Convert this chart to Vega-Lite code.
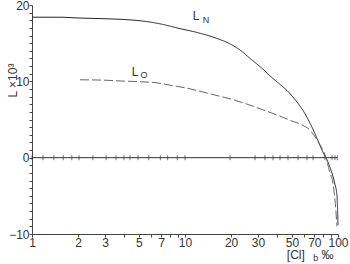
{
  "$schema": "https://vega.github.io/schema/vega-lite/v6.json",
  "width": 306,
  "height": 229,
  "autosize": {"type": "none"},
  "padding": {"left": 32, "top": 5, "right": 12, "bottom": 30},
  "background": "white",
  "config": {
    "view": {"stroke": null},
    "font": "Liberation Sans",
    "axis": {"grid": false, "domainColor": "#444", "tickColor": "#444", "labelColor": "#333", "labelFontSize": 12, "labelFont": "Liberation Sans", "tickSize": 3, "labelPadding": 0, "labelOverlap": false, "labelBound": false, "labelFlush": false}
  },
  "datasets": {
    "curves": [
      {"x": 1, "L": 18.4, "series": "N"},
      {"x": 1.5, "L": 18.4, "series": "N"},
      {"x": 2, "L": 18.3, "series": "N"},
      {"x": 3, "L": 18.2, "series": "N"},
      {"x": 4, "L": 18.1, "series": "N"},
      {"x": 5, "L": 17.95, "series": "N"},
      {"x": 7, "L": 17.5, "series": "N"},
      {"x": 9.3, "L": 16.9, "series": "N"},
      {"x": 12, "L": 16.4, "series": "N"},
      {"x": 15.2, "L": 15.8, "series": "N"},
      {"x": 19.7, "L": 14.9, "series": "N"},
      {"x": 22.9, "L": 14.1, "series": "N"},
      {"x": 27, "L": 12.9, "series": "N"},
      {"x": 32.3, "L": 11.6, "series": "N"},
      {"x": 36, "L": 10.7, "series": "N"},
      {"x": 41.8, "L": 9.6, "series": "N"},
      {"x": 46.4, "L": 8.8, "series": "N"},
      {"x": 52.4, "L": 7.6, "series": "N"},
      {"x": 59, "L": 6.2, "series": "N"},
      {"x": 67.6, "L": 4.0, "series": "N"},
      {"x": 78.6, "L": 1.0, "series": "N"},
      {"x": 88.4, "L": -1.2, "series": "N"},
      {"x": 95, "L": -3.3, "series": "N"},
      {"x": 98.5, "L": -5.0, "series": "N"},
      {"x": 100, "L": -8.8, "series": "N"},
      {"x": 2.06, "L": 10.2, "series": "O"},
      {"x": 3, "L": 10.15, "series": "O"},
      {"x": 3.76, "L": 10.05, "series": "O"},
      {"x": 5, "L": 9.95, "series": "O"},
      {"x": 6.56, "L": 9.8, "series": "O"},
      {"x": 8, "L": 9.5, "series": "O"},
      {"x": 10.3, "L": 9.1, "series": "O"},
      {"x": 15, "L": 8.3, "series": "O"},
      {"x": 19.7, "L": 7.7, "series": "O"},
      {"x": 23.9, "L": 7.2, "series": "O"},
      {"x": 30, "L": 6.5, "series": "O"},
      {"x": 39.8, "L": 5.6, "series": "O"},
      {"x": 50, "L": 4.8, "series": "O"},
      {"x": 58, "L": 4.3, "series": "O"},
      {"x": 65.6, "L": 3.6, "series": "O"},
      {"x": 72, "L": 2.5, "series": "O"},
      {"x": 78.6, "L": 1.2, "series": "O"},
      {"x": 83.5, "L": 0, "series": "O"},
      {"x": 88, "L": -1.8, "series": "O"},
      {"x": 92.7, "L": -3.4, "series": "O"},
      {"x": 96, "L": -6.0, "series": "O"},
      {"x": 98.5, "L": -9.0, "series": "O"}
    ],
    "zero": [
      {"x": 1.0, "L": 0}, {"x": 1.18, "L": 0}, {"x": 1.39, "L": 0}, {"x": 1.6, "L": 0},
      {"x": 1.82, "L": 0}, {"x": 2.03, "L": 0}, {"x": 2.5, "L": 0}, {"x": 3.05, "L": 0},
      {"x": 3.54, "L": 0}, {"x": 3.99, "L": 0}, {"x": 4.37, "L": 0}, {"x": 4.93, "L": 0},
      {"x": 5.8, "L": 0}, {"x": 6.9, "L": 0}, {"x": 7.7, "L": 0}, {"x": 8.9, "L": 0},
      {"x": 10, "L": 0}, {"x": 19.7, "L": 0}, {"x": 28.7, "L": 0}, {"x": 33.3, "L": 0},
      {"x": 37.6, "L": 0}, {"x": 41.8, "L": 0}, {"x": 47.1, "L": 0}, {"x": 54.8, "L": 0},
      {"x": 62.7, "L": 0}, {"x": 68.7, "L": 0}, {"x": 82.2, "L": 0}, {"x": 91.4, "L": 0},
      {"x": 95.5, "L": 0}, {"x": 99, "L": 0}
    ],
    "labels": [
      {"text": "L", "x": 11.8, "L": 18.6, "kind": "main"},
      {"text": "N", "x": 13.7, "L": 18.0, "kind": "sub"},
      {"text": "L", "x": 4.71, "L": 11.2, "kind": "main"},
      {"text": "O", "x": 5.4, "L": 10.8, "kind": "sub"},
      {"text": "[Cl]", "x": 53.0, "L": -12.8, "kind": "main"},
      {"text": "b", "x": 71.5, "L": -13.2, "kind": "sub"},
      {"text": "‰", "x": 85.5, "L": -12.8, "kind": "main"}
    ]
  },
  "encoding": {
    "x": {"field": "x", "type": "quantitative", "scale": {"type": "log", "domain": [1, 100], "nice": false},
      "axis": {"title": null, "labelOverlap": false, "values": [1,2,3,4,5,6,7,8,9,10,20,30,40,50,60,70,80,90,100],
        "labelExpr": "indexof([1,2,3,5,7,10,20,30,50,70,100], datum.value) >= 0 ? datum.label : ''"}},
    "y": {"field": "L", "type": "quantitative", "scale": {"domain": [-10, 20], "nice": false, "zero": false},
      "axis": {"title": "L ×10³", "labelOverlap": false, "titleFontSize": 12, "titleFontWeight": "normal", "titleColor": "#333", "titleX": -20, "titleY": 75, "titleAngle": -90, "titleBaseline": "middle", "titleAlign": "center",
        "values": [-10,-9,-8,-7,-6,-5,-4,-3,-2,-1,0,1,2,3,4,5,6,7,8,9,10,11,12,13,14,15,16,17,18,19,20],
        "labelExpr": "(abs(round(datum.value)) % 10 == 0) ? format(round(datum.value), 'd') : ''"}}
  },
  "layer": [
    {
      "data": {"name": "zero"},
      "mark": {"type": "line", "color": "#333", "strokeWidth": 1}
    },
    {
      "data": {"name": "zero"},
      "mark": {"type": "tick", "orient": "vertical", "color": "#333", "size": 5, "thickness": 1}
    },
    {
      "data": {"name": "curves"},
      "mark": {"type": "line", "strokeWidth": 1, "interpolate": "monotone"},
      "encoding": {
        "detail": {"field": "series"},
        "color": {"field": "series", "type": "nominal", "scale": {"domain": ["N", "O"], "range": ["#222", "#666"]}, "legend": null},
        "strokeDash": {"field": "series", "type": "nominal", "scale": {"domain": ["N", "O"], "range": [[1, 0], [9, 3]]}, "legend": null}
      }
    },
    {
      "data": {"name": "labels"},
      "transform": [{"filter": "datum.kind == 'main'"}],
      "mark": {"type": "text", "fontSize": 12, "color": "#333", "align": "center", "baseline": "middle"},
      "encoding": {"text": {"field": "text"}}
    },
    {
      "data": {"name": "labels"},
      "transform": [{"filter": "datum.kind == 'sub'"}],
      "mark": {"type": "text", "fontSize": 9, "color": "#333", "align": "center", "baseline": "middle"},
      "encoding": {"text": {"field": "text"}}
    }
  ]
}
